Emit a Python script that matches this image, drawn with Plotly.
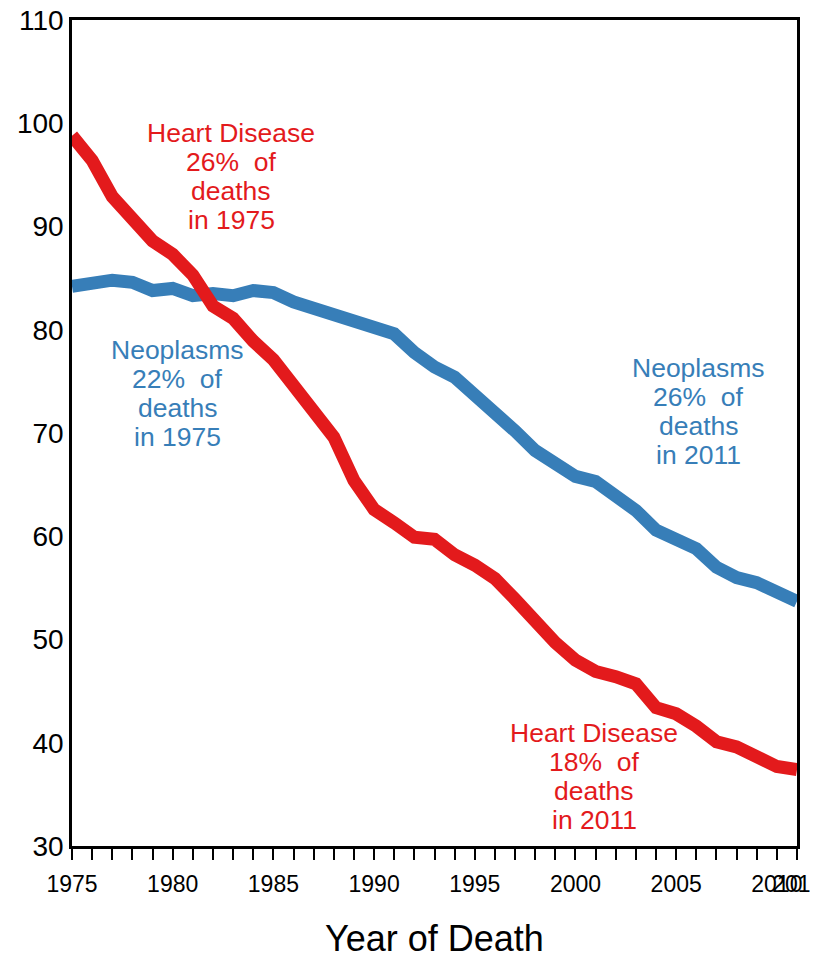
import plotly.graph_objects as go

years = list(range(1975, 2012))
heart_disease = [98.8, 96.4, 92.9, 90.8, 88.6, 87.3, 85.3, 82.3, 81.1, 78.9,
                 77.1, 74.6, 71.9, 69.6, 65.4, 62.6, 61.3, 59.9, 59.7, 58.2,
                 57.2, 55.9, 53.9, 51.6, 49.7, 48.0, 46.9, 46.4, 45.7, 43.4,
                 42.8, 41.6, 40.1, 39.6, 38.5, 37.7, 37.4]
neoplasms = [84.2, 84.5, 84.8, 84.6, 83.8, 84.0, 83.3, 83.5, 83.3, 83.8,
             83.6, 82.7, 82.1, 81.6, 80.8, 80.4, 79.6, 77.8, 76.4, 75.4,
             73.8, 72.0, 70.2, 68.3, 67.2, 65.8, 65.3, 63.9, 62.5, 60.6,
             59.8, 58.8, 57.0, 56.0, 55.5, 54.5, 53.7]
labeled_years = [1975, 1980, 1985, 1990, 1995, 2000, 2005, 2010, 2011]
y_ticks = [30, 40, 50, 60, 70, 80, 90, 100, 110]
x_title = "Year of Death"

RED = "#E31A1C"
BLUE = "#377EB8"
FONT = "Arial, Liberation Sans, Helvetica, sans-serif"

fig = go.Figure()
fig.add_trace(go.Scatter(x=years, y=neoplasms, mode="lines",
                         line=dict(color=BLUE, width=13), hoverinfo="skip"))
fig.add_trace(go.Scatter(x=years, y=heart_disease, mode="lines",
                         line=dict(color=RED, width=13), hoverinfo="skip"))

labels = [
    (1982.9, 99.06, RED, ["Heart Disease", "26%\u00a0\u00a0of", "deaths", "in 1975"]),
    (1980.24, 78.04, BLUE, ["Neoplasms", "22%\u00a0\u00a0of", "deaths", "in 1975"]),
    (2006.13, 76.30, BLUE, ["Neoplasms", "26%\u00a0\u00a0of", "deaths", "in 2011"]),
    (2000.92, 40.94, RED, ["Heart Disease", "18%\u00a0\u00a0of", "deaths", "in 2011"]),
]
for x, y, col, lines in labels:
    for i, t in enumerate(lines):
        fig.add_annotation(x=x, y=y, text=t, showarrow=False, xanchor="center",
                           yanchor="middle", yshift=-29 * i,
                           font=dict(family=FONT, size=26.5, color=col))

# x-axis title as a text annotation below the plot
fig.add_annotation(x=0.5, y=0, xref="paper", yref="paper", text=x_title,
                   showarrow=False, xanchor="center", yanchor="middle",
                   yshift=-92, font=dict(family=FONT, size=36, color="black"))

tick_text = [str(y) if y in labeled_years else "" for y in years]

fig.update_xaxes(range=[1975, 2011], tickmode="array", tickvals=years,
                 ticktext=tick_text, tickangle=0, ticks="outside", ticklen=11,
                 tickwidth=1.5, tickcolor="black", showline=True, linecolor="black",
                 linewidth=2.5, mirror=True, showgrid=False, zeroline=False,
                 automargin=False, ticklabeloverflow="allow", ticklabelstandoff=5,
                 tickfont=dict(family=FONT, size=23, color="black"))
fig.update_yaxes(range=[30, 110], tickmode="array", tickvals=y_ticks,
                 ticks="", showline=True, linecolor="black", linewidth=2.5,
                 mirror=True, showgrid=False, zeroline=False, automargin=False,
                 ticklabeloverflow="allow",
                 tickfont=dict(family=FONT, size=28, color="black"))

fig.update_layout(width=802, height=949, margin=dict(l=64, r=13, t=12, b=111),
                  plot_bgcolor="white", paper_bgcolor="white", showlegend=False)

fig.write_html("out.html")
